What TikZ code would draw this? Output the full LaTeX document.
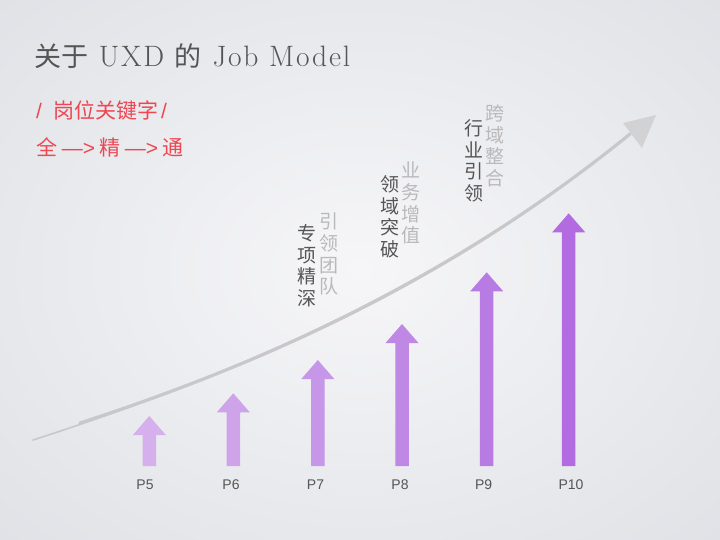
\documentclass[tikz,border=0pt]{standalone}
\usepackage{fontspec}
\newfontfamily\cjk{Noto Sans CJK SC}
\newfontfamily\labfont{Liberation Sans}
\newfontfamily\titlelat[LetterSpace=6]{Latin Modern Roman}
\definecolor{bgin}{RGB}{246,246,248}
\definecolor{bgout}{RGB}{222,224,229}
\definecolor{titlegray}{RGB}{85,85,85}
\definecolor{redtxt}{RGB}{238,70,82}
\definecolor{darktxt}{RGB}{85,85,85}
\definecolor{lighttxt}{RGB}{185,185,187}
\definecolor{brush}{RGB}{200,200,202}
\definecolor{brushhead}{RGB}{210,210,212}
\definecolor{ar5}{RGB}{213,176,236}
\definecolor{ar6}{RGB}{206,163,234}
\definecolor{ar7}{RGB}{198,150,232}
\definecolor{ar8}{RGB}{191,136,229}
\definecolor{ar9}{RGB}{184,122,227}
\definecolor{ar10}{RGB}{178,107,224}
\begin{document}
\begin{tikzpicture}[x=1pt,y=-1pt,
  vcol/.style={inner sep=0pt, align=center, font=\cjk\fontsize{19}{21.7}\selectfont},
  darkcol/.style={vcol, text=darktxt},
  lightcol/.style={vcol, text=lighttxt},
  plabel/.style={inner sep=0pt, font=\labfont\fontsize{14}{16}\selectfont, text=titlegray},
  redline/.style={inner sep=0pt, anchor=west, font=\cjk\fontsize{21}{24}\selectfont, text=redtxt}]
\useasboundingbox (0,0) rectangle (720,539);
\shade[inner color=bgin, outer color=bgout] (-200,-150) rectangle (920,689);

% title and keywords
\node[inner sep=0pt, anchor=west, text=titlegray, font=\titlelat\fontsize{29.5}{32}\selectfont] (title) at (34,56)
  {{\cjk\fontsize{27}{30}\selectfont 关于} UXD {\cjk\fontsize{27}{30}\selectfont 的} Job Model};
\node[redline] (kw) at (36,110) {{\labfont /}\hspace{11pt}岗位关键字\hspace{3pt}{\labfont /}};
\node[redline] (path) at (36,147) {全 {\labfont —>}\hspace{4pt}精 {\labfont —>}\hspace{4pt}通};

% brush curve with arrowhead
\draw[brush, line width=1.6pt, line cap=round] (33,440) .. controls (250,370) and (450,280) .. (634,131);
\draw[brush, line width=3.2pt, line cap=round] (80,423) .. controls (280,358) and (460,272) .. (630,134);
\fill[brushhead] (623,123) -- (656,115) -- (642,148) -- cycle;

% arrows
\foreach \cx/\tip/\col in {149.3/416/ar5, 233.3/393.3/ar6, 317.8/360/ar7, 402/324/ar8, 486.7/272.3/ar9, 568.7/213.3/ar10}{
  \fill[\col] (\cx-6.75,466) -- (\cx-6.75,\tip+19) -- (\cx-16.5,\tip+19) -- (\cx,\tip)
     -- (\cx+16.5,\tip+19) -- (\cx+6.75,\tip+19) -- (\cx+6.75,466) -- cycle;
}

% level labels
\node[plabel] (p5) at (145,485) {P5};
\node[plabel] (p6) at (231,485) {P6};
\node[plabel] (p7) at (315.5,485) {P7};
\node[plabel] (p8) at (400,485) {P8};
\node[plabel] (p9) at (483.7,485) {P9};
\node[plabel] (p10) at (571,485) {P10};

% vertical texts
\node[darkcol] (t7a) at (307,265.8) {专\\项\\精\\深};
\node[lightcol] (t7b) at (329.3,254.2) {引\\领\\团\\队};
\node[darkcol] (t8a) at (390,216.7) {领\\域\\突\\破};
\node[lightcol] (t8b) at (411,203.3) {业\\务\\增\\值};
\node[darkcol] (t9a) at (474,160.8) {行\\业\\引\\领};
\node[lightcol] (t9b) at (495,145.8) {跨\\域\\整\\合};
\end{tikzpicture}
\end{document}
